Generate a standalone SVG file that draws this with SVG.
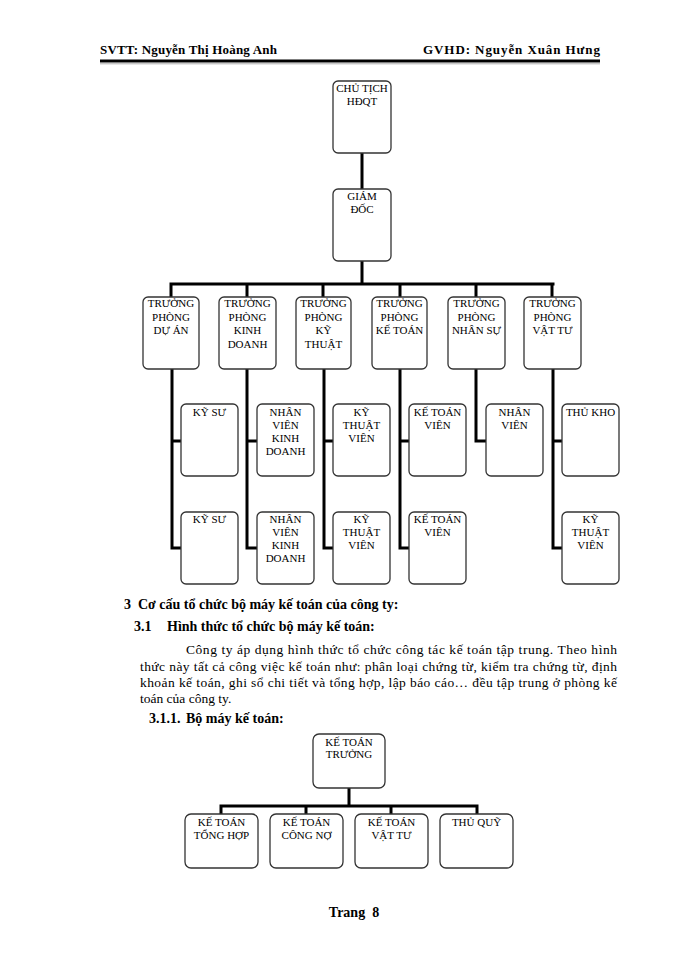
<svg xmlns="http://www.w3.org/2000/svg" width="700" height="960" viewBox="0 0 700 960">
<style>
.box{fill:#fff;stroke:#333;stroke-width:1.3}
.bt{font-family:"Liberation Serif","Times New Roman",serif;font-size:11px;fill:#000;text-anchor:middle}
.hd{font-family:"Liberation Serif","Times New Roman",serif;font-size:14px;font-weight:bold;fill:#000}
.hh{font-family:"Liberation Serif","Times New Roman",serif;font-size:13px;font-weight:bold;fill:#000}
.p{font-family:"Liberation Serif","Times New Roman",serif;font-size:13.5px;fill:#000}
.con{fill:none;stroke:#000;stroke-width:3;stroke-linejoin:miter;stroke-linecap:square}
</style>
<rect width="700" height="960" fill="#fff"/>
<g id="header">
<text class="hh" x="100" y="54" textLength="177" lengthAdjust="spacing">SVTT: Nguyễn Thị Hoàng Anh</text>
<text class="hh" x="423" y="54" textLength="177" lengthAdjust="spacing">GVHD: Nguyễn Xuân Hưng</text>
<line x1="100" y1="61" x2="600" y2="61" stroke="#000" stroke-width="3"/>
<line x1="100" y1="63.8" x2="600" y2="63.8" stroke="#999" stroke-width="0.8"/>
</g>
<g id="connectors">
<path class="con" d="M362 153V189M362 261V284M171 284H553M171 284V297M247 284V297M323 284V297M400 284V297M476 284V297M552 284V297"/>
<path class="con" d="M172 369V548H181M172 441H181M247 369V548H257M247 441H257M324 369V548H333M324 441H333M400 369V548H409M400 441H409M476 369V441H486M553 369V548H562M553 441H562"/>
<path class="con" d="M349 788V806M221 806H477M221 806V814M306 806V814M391 806V814M477 806V814"/>
</g>
<g id="n-chutich"><rect class="box" x="333" y="81" width="58" height="72" rx="5"/><text class="bt" x="362" y="92">CHỦ TỊCH</text><text class="bt" x="362" y="105">HĐQT</text></g>
<g id="n-giamdoc"><rect class="box" x="333" y="189" width="58" height="72" rx="5"/><text class="bt" x="362" y="200">GIÁM</text><text class="bt" x="362" y="213">ĐỐC</text></g>
<g id="n-tp-duan"><rect class="box" x="143" y="297" width="56" height="72" rx="5"/><text class="bt" x="171" y="307">TRƯỞNG</text><text class="bt" x="171" y="320.5">PHÒNG</text><text class="bt" x="171" y="334">DỰ ÁN</text></g>
<g id="n-tp-kinhdoanh"><rect class="box" x="219" y="297" width="57" height="72" rx="5"/><text class="bt" x="247.5" y="307">TRƯỞNG</text><text class="bt" x="247.5" y="320.5">PHÒNG</text><text class="bt" x="247.5" y="334">KINH</text><text class="bt" x="247.5" y="347.5">DOANH</text></g>
<g id="n-tp-kythuat"><rect class="box" x="296" y="297" width="55" height="72" rx="5"/><text class="bt" x="323.5" y="307">TRƯỞNG</text><text class="bt" x="323.5" y="320.5">PHÒNG</text><text class="bt" x="323.5" y="334">KỸ</text><text class="bt" x="323.5" y="347.5">THUẬT</text></g>
<g id="n-tp-ketoan"><rect class="box" x="372" y="297" width="55" height="72" rx="5"/><text class="bt" x="399.5" y="307">TRƯỞNG</text><text class="bt" x="399.5" y="320.5">PHÒNG</text><text class="bt" x="399.5" y="334">KẾ TOÁN</text></g>
<g id="n-tp-nhansu"><rect class="box" x="448" y="297" width="57" height="72" rx="5"/><text class="bt" x="476.5" y="307">TRƯỞNG</text><text class="bt" x="476.5" y="320.5">PHÒNG</text><text class="bt" x="476.5" y="334">NHÂN SỰ</text></g>
<g id="n-tp-vattu"><rect class="box" x="524" y="297" width="57" height="72" rx="5"/><text class="bt" x="552.5" y="307">TRƯỞNG</text><text class="bt" x="552.5" y="320.5">PHÒNG</text><text class="bt" x="552.5" y="334">VẬT TƯ</text></g>
<g id="n-kysu1"><rect class="box" x="181" y="404" width="57" height="72" rx="5"/><text class="bt" x="209.5" y="416">KỸ SƯ</text></g>
<g id="n-kysu2"><rect class="box" x="181" y="512" width="57" height="72" rx="5"/><text class="bt" x="209.5" y="523">KỸ SƯ</text></g>
<g id="n-nvkd1"><rect class="box" x="257" y="404" width="57" height="72" rx="5"/><text class="bt" x="285.5" y="416">NHÂN</text><text class="bt" x="285.5" y="429">VIÊN</text><text class="bt" x="285.5" y="442">KINH</text><text class="bt" x="285.5" y="455">DOANH</text></g>
<g id="n-nvkd2"><rect class="box" x="257" y="512" width="57" height="72" rx="5"/><text class="bt" x="285.5" y="523">NHÂN</text><text class="bt" x="285.5" y="536">VIÊN</text><text class="bt" x="285.5" y="549">KINH</text><text class="bt" x="285.5" y="562">DOANH</text></g>
<g id="n-ktv1"><rect class="box" x="333" y="404" width="57" height="72" rx="5"/><text class="bt" x="361.5" y="416">KỸ</text><text class="bt" x="361.5" y="429">THUẬT</text><text class="bt" x="361.5" y="442">VIÊN</text></g>
<g id="n-ktv2"><rect class="box" x="333" y="512" width="57" height="72" rx="5"/><text class="bt" x="361.5" y="523">KỸ</text><text class="bt" x="361.5" y="536">THUẬT</text><text class="bt" x="361.5" y="549">VIÊN</text></g>
<g id="n-ketoanvien1"><rect class="box" x="409" y="404" width="57" height="72" rx="5"/><text class="bt" x="437.5" y="416">KẾ TOÁN</text><text class="bt" x="437.5" y="429">VIÊN</text></g>
<g id="n-ketoanvien2"><rect class="box" x="409" y="512" width="57" height="72" rx="5"/><text class="bt" x="437.5" y="523">KẾ TOÁN</text><text class="bt" x="437.5" y="536">VIÊN</text></g>
<g id="n-nhanvien"><rect class="box" x="486" y="404" width="57" height="72" rx="5"/><text class="bt" x="514.5" y="416">NHÂN</text><text class="bt" x="514.5" y="429">VIÊN</text></g>
<g id="n-thukho"><rect class="box" x="562" y="404" width="57" height="72" rx="5"/><text class="bt" x="590.5" y="416">THỦ KHO</text></g>
<g id="n-ktv3"><rect class="box" x="562" y="512" width="57" height="72" rx="5"/><text class="bt" x="590.5" y="523">KỸ</text><text class="bt" x="590.5" y="536">THUẬT</text><text class="bt" x="590.5" y="549">VIÊN</text></g>
<g id="text-section">
<text class="hd" x="124" y="609" xml:space="preserve">3  Cơ cấu tổ chức bộ máy kế toán của công ty:</text>
<text class="hd" x="134" y="631">3.1</text>
<text class="hd" x="167" y="631">Hình thức tổ chức bộ máy kế toán:</text>
<text class="p" x="186" y="654" textLength="431" lengthAdjust="spacing">Công ty áp dụng hình thức tổ chức công tác kế toán tập trung. Theo hình</text>
<text class="p" x="140" y="671" textLength="477" lengthAdjust="spacing">thức này tất cả công việc kế toán như: phân loại chứng từ, kiểm tra chứng từ, định</text>
<text class="p" x="140" y="687" textLength="477" lengthAdjust="spacing">khoản kế toán, ghi sổ chi tiết và tổng hợp, lập báo cáo… đều tập trung ở phòng kế</text>
<text class="p" x="140" y="703">toán của công ty.</text>
<text class="hd" x="149" y="723">3.1.1.</text>
<text class="hd" x="186" y="723">Bộ máy kế toán:</text>
</g>
<g id="n-ketoantruong"><rect class="box" x="313" y="734" width="72" height="54" rx="6"/><text class="bt" x="349" y="746">KẾ TOÁN</text><text class="bt" x="349" y="758">TRƯỞNG</text></g>
<g id="n-kt-tonghop"><rect class="box" x="185" y="814" width="73" height="54" rx="6"/><text class="bt" x="221.5" y="826">KẾ TOÁN</text><text class="bt" x="221.5" y="839">TỔNG HỢP</text></g>
<g id="n-kt-congno"><rect class="box" x="270" y="814" width="73" height="54" rx="6"/><text class="bt" x="306.5" y="826">KẾ TOÁN</text><text class="bt" x="306.5" y="839">CÔNG NỢ</text></g>
<g id="n-kt-vattu"><rect class="box" x="355" y="814" width="73" height="54" rx="6"/><text class="bt" x="391.5" y="826">KẾ TOÁN</text><text class="bt" x="391.5" y="839">VẬT TƯ</text></g>
<g id="n-thuquy"><rect class="box" x="440" y="814" width="73" height="54" rx="6"/><text class="bt" x="476.5" y="826">THỦ QUỸ</text></g>
<g id="footer"><text class="hd" x="354" y="917" text-anchor="middle" xml:space="preserve">Trang  8</text></g>
</svg>
